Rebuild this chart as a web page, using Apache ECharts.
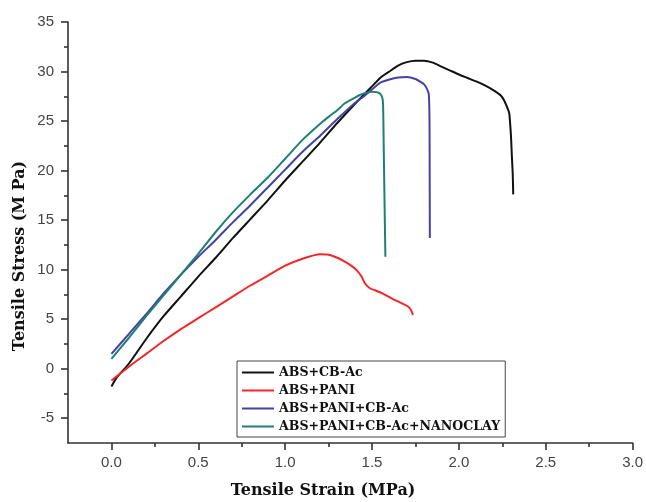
<!DOCTYPE html>
<html><head><meta charset="utf-8">
<script src="https://cdn.jsdelivr.net/npm/echarts@6/dist/echarts.min.js"></script>
<style>html,body{margin:0;padding:0;background:#fff}#c{width:646px;height:502px}</style>
</head><body><div id="c"></div>
<script>
const seriesNames = ['ABS+CB-Ac', 'ABS+PANI', 'ABS+PANI+CB-Ac', 'ABS+PANI+CB-Ac+NANOCLAY'];
const seriesColors = ['#111111', '#f2262a', '#4343a3', '#1f7f73'];

const cbStrain = [0, 0.03, 0.1, 0.2, 0.3, 0.4, 0.5, 0.6, 0.7, 0.8, 0.9, 1.0, 1.1, 1.2, 1.3, 1.4, 1.5, 1.55, 1.6, 1.65, 1.7, 1.75, 1.8, 1.85, 1.9, 1.95, 2.0, 2.05, 2.1, 2.15, 2.2, 2.24, 2.26, 2.28, 2.29, 2.3, 2.305, 2.31, 2.313];
const cbStress = [-1.8, -0.9, 0.5, 3.0, 5.3, 7.3, 9.3, 11.2, 13.2, 15.1, 17.0, 19.0, 20.9, 22.8, 24.8, 26.7, 28.5, 29.4, 30.0, 30.6, 30.95, 31.1, 31.1, 30.9, 30.5, 30.1, 29.7, 29.35, 29.0, 28.6, 28.1, 27.6, 27.1, 26.3, 25.8, 23.5, 21.5, 19.7, 17.6];

const paniStrain = [0, 0.1, 0.2, 0.3, 0.4, 0.5, 0.6, 0.7, 0.8, 0.9, 1.0, 1.1, 1.2, 1.25, 1.3, 1.344, 1.38, 1.41, 1.44, 1.46, 1.49, 1.52, 1.56, 1.61, 1.66, 1.707, 1.725, 1.736];
const paniStress = [-1.2, 0.2, 1.5, 2.8, 4.0, 5.1, 6.2, 7.3, 8.4, 9.4, 10.4, 11.1, 11.55, 11.5, 11.2, 10.8, 10.4, 9.98, 9.3, 8.6, 8.1, 7.9, 7.6, 7.13, 6.7, 6.28, 5.9, 5.44];

const paniCbStrain = [0, 0.1, 0.2, 0.3, 0.4, 0.5, 0.6, 0.7, 0.8, 0.9, 1.0, 1.1, 1.2, 1.3, 1.4, 1.45, 1.5, 1.55, 1.6, 1.65, 1.7, 1.75, 1.78, 1.8, 1.815, 1.827, 1.831, 1.832, 1.833];
const paniCbStress = [1.5, 3.5, 5.5, 7.6, 9.5, 11.3, 13.0, 14.8, 16.5, 18.3, 20.1, 21.9, 23.5, 25.2, 26.8, 27.45, 28.2, 28.9, 29.2, 29.4, 29.45, 29.25, 28.95, 28.7, 28.3, 27.7, 25.0, 20.0, 13.2];

const nanoStrain = [0, 0.1, 0.2, 0.3, 0.4, 0.5, 0.6, 0.7, 0.8, 0.9, 1.0, 1.1, 1.2, 1.248, 1.3, 1.344, 1.4, 1.44, 1.5, 1.545, 1.56, 1.564, 1.567, 1.572, 1.577];
const nanoStress = [1.0, 3.1, 5.3, 7.4, 9.5, 11.6, 13.8, 15.8, 17.6, 19.3, 21.2, 23.1, 24.7, 25.4, 26.1, 26.8, 27.35, 27.7, 27.95, 27.8, 27.3, 26.5, 23.0, 17.0, 11.3];

const xMajorTicks = [0, 0.5, 1.0, 1.5, 2.0, 2.5, 3.0];
const xMinorTicks = [0.25, 0.75, 1.25, 1.75, 2.25, 2.75];
const yMajorTicks = [-5, 0, 5, 10, 15, 20, 25, 30, 35];
const yMinorTicks = [-2.5, 2.5, 7.5, 12.5, 17.5, 22.5, 27.5, 32.5];

const xTitle = 'Tensile Strain (MPa)';
const yTitle = 'Tensile Stress (M Pa)';

function zip(a, b) { return a.map((v, i) => [v, b[i]]); }

const chart = echarts.init(document.getElementById('c'));
const axisColor = '#333';
const labelFont = { fontFamily: 'Liberation Sans', fontSize: 15, color: '#444' };
const titleFont = 'bold 16px "DejaVu Serif"';

const allData = [zip(cbStrain, cbStress), zip(paniStrain, paniStress), zip(paniCbStrain, paniCbStress), zip(nanoStrain, nanoStress)];

chart.setOption({
  animation: false,
  backgroundColor: '#fff',
  grid: { left: 68, right: 11, top: 22, bottom: 59 },
  xAxis: [
    { type: 'value', min: -0.25, max: 3.0, position: 'bottom',
      axisLine: { show: true, onZero: false, lineStyle: { color: axisColor, width: 1.6 } },
      axisTick: { show: true, customValues: xMajorTicks, length: 7, lineStyle: { color: axisColor, width: 1.6 } },
      axisLabel: { show: true, customValues: xMajorTicks, margin: 12, formatter: v => v.toFixed(1), ...labelFont },
      splitLine: { show: false } },
    { type: 'value', min: -0.25, max: 3.0, position: 'bottom',
      axisLine: { show: false, onZero: false },
      axisTick: { show: true, customValues: xMinorTicks, length: 4, lineStyle: { color: axisColor, width: 1.6 } },
      axisLabel: { show: false }, splitLine: { show: false } }
  ],
  yAxis: [
    { type: 'value', min: -7.5, max: 35, position: 'left',
      axisLine: { show: true, onZero: false, lineStyle: { color: axisColor, width: 1.6 } },
      axisTick: { show: true, customValues: yMajorTicks, length: 7, lineStyle: { color: axisColor, width: 1.6 } },
      axisLabel: { show: true, customValues: yMajorTicks, margin: 14, formatter: v => String(v), ...labelFont },
      splitLine: { show: false } },
    { type: 'value', min: -7.5, max: 35, position: 'left',
      axisLine: { show: false, onZero: false },
      axisTick: { show: true, customValues: yMinorTicks, length: 4, lineStyle: { color: axisColor, width: 1.6 } },
      axisLabel: { show: false }, splitLine: { show: false } }
  ],
  legend: {
    data: seriesNames, orient: 'vertical', left: 237, top: 361,
    icon: 'rect', itemWidth: 32, itemHeight: 2, itemGap: 5,
    borderColor: '#444', borderWidth: 1, padding: [5, 5, 4, 5],
    textStyle: { fontFamily: 'DejaVu Serif', fontWeight: 'bold', fontSize: 12.6, color: '#111' }
  },
  graphic: [
    { type: 'text', left: 'center', top: 483, style: { text: xTitle, font: titleFont, fill: '#111' } },
    { type: 'text', x: 20, y: 256, rotation: Math.PI / 2,
      style: { text: yTitle, font: titleFont, fill: '#111', align: 'center', verticalAlign: 'middle' } }
  ],
  series: seriesNames.map((n, i) => ({
    name: n, type: 'line', xAxisIndex: 0, yAxisIndex: 0, data: allData[i],
    symbol: 'none', showSymbol: false, smooth: 0.2,
    lineStyle: { color: seriesColors[i], width: 2 }, itemStyle: { color: seriesColors[i] }
  }))
});
</script></body></html>
